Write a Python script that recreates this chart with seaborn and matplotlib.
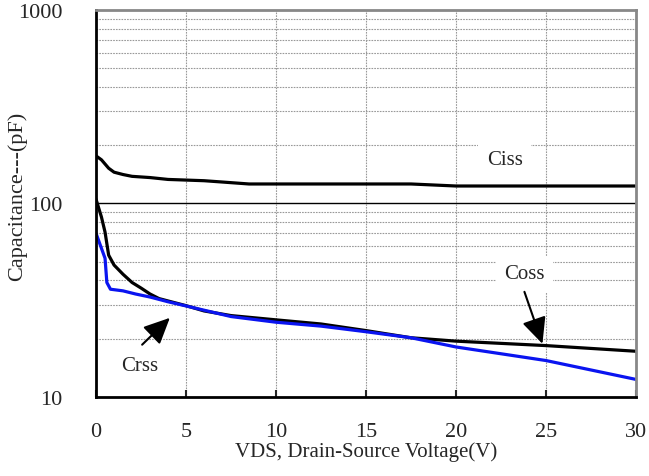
import numpy as np
import pandas as pd
import matplotlib
matplotlib.use("Agg")
import matplotlib.pyplot as plt
import seaborn as sns
from matplotlib.ticker import FixedLocator, NullFormatter

# --------------------  DATOS  --------------------
ciss_v = [0.0, 0.3, 0.7, 1.0, 1.5, 2.0, 3.0, 4.0, 5.0, 6.0, 7.0, 8.5, 10, 12, 15, 17.5, 20, 25, 30]
ciss_c = [176, 168, 152, 145, 141, 138, 136, 133, 132, 131, 129, 126, 126, 126, 126, 126, 123, 123, 123]

coss_v = [0.0, 0.3, 0.5, 0.7, 1.0, 1.5, 2.0, 2.5, 3.0, 3.5, 4.0, 5.0, 6.0, 7.5, 10, 12.5, 15, 17.5, 20, 25, 30]
coss_c = [105, 85, 71, 54, 48, 43, 39, 36.5, 34, 32.2, 31.3, 29.6, 27.8, 26.3, 25, 23.8, 22, 20.2, 19.4, 18.4, 17.2]

crss_v = [0.0, 0.5, 0.6, 0.8, 1.5, 2.2, 3.0, 4.0, 5.0, 7.5, 10, 12.5, 15, 17.5, 20, 25, 30]
crss_c = [70, 52, 39, 36, 35.3, 34, 32.8, 31, 29.5, 26, 24.3, 23.2, 21.7, 20.2, 18.1, 15.4, 12.3]

x_ticks = [0, 5, 10, 15, 20, 25, 30]
y_ticks = [10, 100, 1000]

# --------------------  FIGURA  --------------------
sns.set_style("white")
plt.rcParams["font.family"] = ["Liberation Serif", "DejaVu Serif"]

fig = plt.figure(figsize=(6.49, 4.77), dpi=100)
ax = fig.add_axes([0.148, 0.166, 0.832, 0.811])

sns.lineplot(x=ciss_v, y=ciss_c, ax=ax, color="black", linewidth=2.3)
sns.lineplot(x=coss_v, y=coss_c, ax=ax, color="black", linewidth=2.3)
sns.lineplot(x=crss_v, y=crss_c, ax=ax, color="#0a14f0", linewidth=2.3)

ax.set_yscale("log")
ax.set_xlim(0, 30)
ax.set_ylim(10, 1000)

# rejilla
minor_y = [v * d for d in (10, 100) for v in range(2, 10)]
for yv in minor_y:
    ax.axhline(yv, color="#999999", linestyle=(0, (1.5, 1)), linewidth=0.8, zorder=0)
ax.axhline(100, color="black", linewidth=1.0, zorder=0)
for xv in x_ticks[1:-1]:
    ax.axvline(xv, color="#999999", linestyle=(0, (1.5, 1)), linewidth=0.8, zorder=0)

ax.xaxis.set_major_locator(FixedLocator(x_ticks))
ax.yaxis.set_major_locator(FixedLocator(y_ticks))
ax.yaxis.set_minor_locator(FixedLocator([]))
ax.yaxis.set_minor_formatter(NullFormatter())
ax.set_yticklabels([str(v) for v in y_ticks])
ax.tick_params(axis="x", direction="in", length=5, width=1.5, pad=18, labelsize=16, bottom=True)
ax.tick_params(axis="y", length=0, pad=24, labelsize=16)

for side in ("left", "bottom"):
    ax.spines[side].set_color("black")
    ax.spines[side].set_linewidth(2.0)
for side in ("top", "right"):
    ax.spines[side].set_color("#888888")
    ax.spines[side].set_linewidth(2.0)

ax.set_xlabel("VDS, Drain-Source Voltage(V)", fontsize=15, labelpad=0)
ax.set_ylabel("Capacitance---(pF)", fontsize=16)
ax.yaxis.set_label_coords(-0.128, 0.52)

# etiquetas
box = dict(facecolor="white", edgecolor="none", pad=6)
ax.text(22.7, 168, "Ciss", fontsize=15, ha="center", va="center", bbox=box)
ax.text(23.8, 43.3, "Coss", fontsize=15, ha="center", va="center", bbox=box)
ax.text(2.45, 14.5, "Crss", fontsize=15, ha="center", va="center")

arrow = dict(arrowstyle="-|>,head_length=1.6,head_width=0.75", color="black", linewidth=1.5,
             shrinkA=0, shrinkB=0)
ax.annotate("", xy=(24.8, 18.8), xytext=(23.8, 34.9), arrowprops=arrow)
ax.annotate("", xy=(4.1, 25.6), xytext=(2.56, 18.6), arrowprops=arrow)

plt.savefig("out.png", dpi=100)
